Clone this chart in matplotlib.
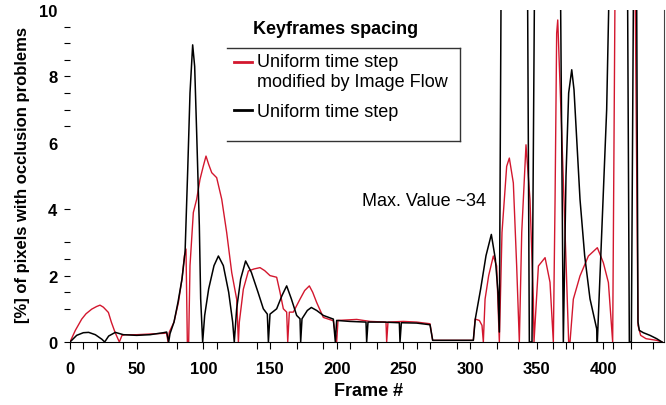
# occlusion problems per frame, two keyframe spacing strategies
import matplotlib
matplotlib.use('Agg')
import matplotlib.pyplot as plt
from matplotlib.lines import Line2D

plt.rcParams['font.family'] = ['Liberation Sans', 'DejaVu Sans']

# uniform time step (black)
frames_uniform = [0, 5, 10, 14, 19, 24, 26, 29, 34, 40, 50, 60, 70, 72.5, 74, 75, 78, 81, 84,
                  86.3, 88.3, 90, 92, 93.5, 95, 97, 98, 99.5, 101, 104, 108, 111.3, 115, 119,
                  122, 123.2, 125, 128, 131.7, 136, 141, 145, 148, 148.8, 150, 155, 159, 162.5,
                  166, 170, 172.5, 173, 174, 178, 181, 185, 190, 197.5, 199, 200, 210, 222,
                  222.5, 223.5, 235, 247, 247.5, 248.5, 260, 270, 272, 290, 302.5, 304, 308,
                  312, 316, 319, 321, 322, 324.5, 330, 338, 343, 344.5, 346.5, 350, 360, 367,
                  370, 372, 374, 376.3, 378, 382.5, 386, 390, 395, 395.5, 398.8, 402.5, 405,
                  412, 418, 419.5, 421, 424, 426, 427, 430, 435, 440, 444]
occl_uniform = [0, 0.2, 0.28, 0.29, 0.22, 0.08, 0, 0.18, 0.29, 0.22, 0.2, 0.22, 0.28, 0.3, 0,
                0.25, 0.6, 1.2, 1.9, 2.7, 5.2, 7.5, 8.95, 8.3, 6.3, 3.5, 1.3, 0, 0.8, 1.6, 2.3,
                2.59, 2.3, 1.5, 0.6, 0, 1.0, 1.9, 2.44, 2.1, 1.5, 1.0, 0.84, 0, 0.84, 1.0, 1.4,
                1.69, 1.3, 0.8, 0.7, 0, 0.7, 0.95, 1.04, 0.95, 0.8, 0.69, 0, 0.65, 0.62, 0.6,
                0, 0.6, 0.6, 0.58, 0, 0.58, 0.57, 0.52, 0.05, 0.05, 0.05, 0.7, 1.6, 2.6, 3.24,
                2.5, 1.5, 0.3, 20, 34, 25, 12, 0, 0, 20, 30, 15, 0, 5, 7.5, 8.2, 7.6, 4.3, 2.6,
                1.3, 0.4, 0, 3.3, 7.0, 12, 25, 12, 0, 0, 20, 0.6, 0.35, 0.28, 0.2, 0.1, 0]

# uniform time step modified by image flow (red)
frames_flow = [0, 4, 8.8, 12, 16.3, 20, 22.5, 25, 28.8, 31, 33.8, 37, 39, 41.3, 50, 60, 70,
               72.5, 73.5, 74.5, 78, 81.3, 84, 85.8, 87, 88, 89, 90, 92.5, 95, 97.5, 100, 102,
               104, 106.3, 110, 113.8, 117.5, 121.3, 125, 126.3, 127, 130, 133.8, 138, 142.5,
               146, 150, 155, 157.5, 160, 162.5, 163.3, 164.5, 167.5, 172.5, 176, 179.5, 182,
               185, 190, 197.5, 200, 201, 215, 225, 237, 237.5, 238.5, 250, 260, 270, 272,
               302.5, 303.8, 307, 309, 310, 311.3, 314, 317.5, 320, 322, 324, 327.5, 329.5,
               332.5, 335, 337, 338.8, 342, 345, 347.5, 348, 351.3, 356.3, 360, 362.5, 363.8,
               365, 365.8, 368.8, 371.3, 374, 375, 377.5, 382.5, 388.8, 395.5, 400, 403.8, 407,
               409, 415, 422, 424, 426, 428, 432, 440, 444]
occl_flow = [0, 0.35, 0.69, 0.85, 0.99, 1.07, 1.11, 1.05, 0.89, 0.6, 0.29, 0, 0.2, 0.22, 0.22,
             0.24, 0.26, 0.27, 0, 0.3, 0.6, 1.19, 1.9, 2.6, 2.8, 0, 0, 2.3, 3.9, 4.3, 4.9, 5.3,
             5.6, 5.35, 5.1, 4.95, 4.3, 3.3, 2.09, 1.29, 0, 0.6, 1.59, 2.14, 2.2, 2.24, 2.15,
             2.0, 1.95, 1.5, 1.0, 0.9, 0, 0.9, 0.9, 1.29, 1.55, 1.69, 1.5, 1.19, 0.74, 0.64, 0,
             0.65, 0.68, 0.62, 0.6, 0, 0.6, 0.62, 0.6, 0.55, 0.05, 0.05, 0.69, 0.65, 0.5, 0,
             1.29, 2.0, 2.59, 2.29, 0, 3.3, 5.29, 5.54, 4.79, 2.29, 0, 3.3, 5.94, 4.29, 1.29,
             0, 2.29, 2.54, 1.8, 0, 4.3, 9.3, 9.7, 6.3, 3.3, 0, 0, 1.29, 1.99, 2.59, 2.84, 2.39,
             1.79, 0, 12, 30, 15, 10, 0.5, 0.2, 0.1, 0.05, 0]

x_major = [0, 50, 100, 150, 200, 250, 300, 350, 400]
x_minor = [10, 20, 40, 80, 110, 140, 170, 190, 210, 230, 260, 270, 290, 320, 336, 362, 372,
           377, 407, 421, 437]
y_major = [0, 2, 4, 6, 8, 10]
y_minor = [1, 1.5, 2.5, 3, 6.5, 7, 7.5, 8.5, 9, 9.5]

red = '#d3172e'

fig = plt.figure(figsize=(6.66, 4.06), dpi=100)
W, H = 666, 406
ax = fig.add_axes([70 / W, 1 - 343 / H, 594 / W, 332 / H])

ax.plot(frames_flow, occl_flow, color=red, lw=1.0,
        label='Uniform time step\nmodified by Image Flow')
ax.plot(frames_uniform, occl_uniform, color='black', lw=1.1, label='Uniform time step')

ax.set_xlim(0, 445.5)
ax.set_ylim(0, 10)

ax.spines['top'].set_visible(False)
ax.spines['left'].set_visible(False)
ax.spines['right'].set_color('#444444')

ax.set_xticks(x_major)
ax.set_xticks(x_minor, minor=True)
ax.set_yticks(y_major)
ax.set_yticks(y_minor, minor=True)
ax.tick_params(axis='x', which='both', direction='out', length=5, width=0.8)
ax.tick_params(axis='x', which='major', pad=9, labelsize=12)
ax.tick_params(axis='y', which='both', direction='out', length=4, width=0.8)
ax.tick_params(axis='y', which='major', pad=5, labelsize=12)
for lab in ax.get_xticklabels() + ax.get_yticklabels():
    lab.set_fontweight('bold')
# no marks at 6 and 10 in the original
ax.yaxis.get_major_ticks()[3].tick1line.set_visible(False)
ax.yaxis.get_major_ticks()[5].tick1line.set_visible(False)

ax.set_xlabel('Frame #', fontsize=13, fontweight='bold')
ax.xaxis.set_label_coords((368 - 70) / 594, -(392 - 343) / 332)
ax.xaxis.label.set_va('center')
ax.set_ylabel('[%] of pixels with occlusion problems', fontsize=12, fontweight='bold')
ax.yaxis.set_label_coords(-(70 - 30) / 594, (343 - 175) / 332)

ax.text(219, 4.25, 'Max. Value ~34', fontsize=13, va='center', ha='left')

# legend
fig.text(336 / W, 1 - 30 / H, 'Keyframes spacing', fontsize=13, fontweight='bold',
         ha='center', va='center')
leg = ax.legend(loc='upper left', bbox_to_anchor=(234 / W, 1 - 54 / H),
                bbox_transform=fig.transFigure, frameon=False, fontsize=13,
                handlelength=1.0, handletextpad=0.3, borderpad=0, borderaxespad=0,
                labelspacing=0.75)
for l in leg.get_lines():
    l.set_linewidth(2)
# red handle sits on the first line of its two-line label
h0 = leg.get_lines()[0]
h0.set_ydata([y + 6.5 for y in h0.get_ydata()])

# box round the legend entries (open on the left like the original)
x0, x1 = 227 / W, 460 / W
y0, y1 = 1 - 49 / H, 1 - 142 / H
for xs, ys in [([x0, x1], [y0, y0]), ([x1, x1], [y0, y1]), ([x0, x1], [y1, y1])]:
    fig.add_artist(Line2D(xs, ys, color='#333333', lw=1.0, transform=fig.transFigure))

fig.savefig('out.png', dpi=100)
